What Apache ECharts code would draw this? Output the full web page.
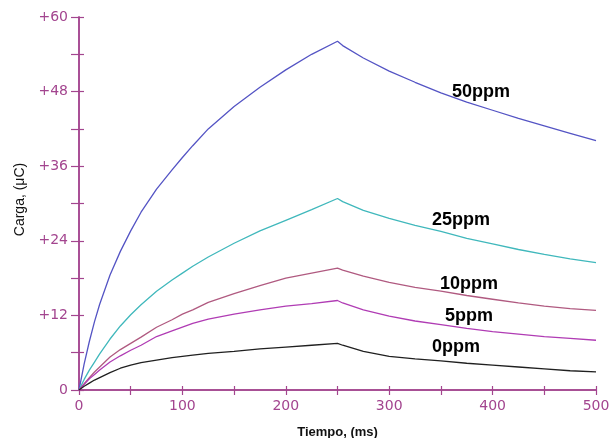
<!DOCTYPE html>
<html>
<head>
<meta charset="utf-8">
<script src="https://cdn.jsdelivr.net/npm/echarts@6/dist/echarts.min.js"></script>
<style>html,body{margin:0;padding:0;background:#fff;}#c{width:610px;height:438px;}</style>
</head>
<body>
<div id="c"></div>
<script>
// Data
const time  = [0, 5, 10, 15, 20, 30, 40, 50, 60, 75, 90, 100, 110, 125, 150, 175, 200, 225, 250, 255, 275, 300, 325, 350, 375, 400, 425, 450, 475, 500];
const ppm50 = [0, 4.2, 7.8, 11.0, 13.8, 18.5, 22.3, 25.6, 28.6, 32.3, 35.4, 37.4, 39.3, 42.0, 45.6, 48.7, 51.5, 54.0, 56.1, 55.4, 53.4, 51.3, 49.5, 47.8, 46.3, 45.0, 43.7, 42.5, 41.3, 40.1];
const ppm25 = [0, 1.7, 3.2, 4.5, 5.8, 8.2, 10.3, 12.1, 13.7, 15.9, 17.7, 18.8, 19.9, 21.4, 23.6, 25.6, 27.3, 29.0, 30.8, 30.3, 28.9, 27.6, 26.5, 25.5, 24.4, 23.5, 22.6, 21.8, 21.1, 20.5];
const ppm10 = [0, 1.0, 2.0, 2.9, 3.7, 5.3, 6.5, 7.5, 8.5, 10.1, 11.3, 12.2, 12.9, 14.1, 15.5, 16.8, 18.0, 18.8, 19.6, 19.3, 18.3, 17.3, 16.5, 15.9, 15.2, 14.6, 14.0, 13.5, 13.1, 12.8];
const ppm5  = [0, 0.9, 1.8, 2.5, 3.2, 4.5, 5.5, 6.4, 7.2, 8.6, 9.5, 10.1, 10.7, 11.4, 12.2, 12.9, 13.5, 13.9, 14.4, 14.0, 12.9, 11.9, 11.1, 10.5, 9.9, 9.4, 9.0, 8.6, 8.3, 8.0];
const ppm0  = [0, 0.6, 1.1, 1.6, 2.0, 2.8, 3.5, 4.0, 4.4, 4.8, 5.2, 5.4, 5.6, 5.9, 6.2, 6.6, 6.9, 7.2, 7.5, 7.2, 6.2, 5.4, 5.0, 4.7, 4.3, 4.0, 3.7, 3.4, 3.1, 2.9];
const seriesNames = ['50ppm', '25ppm', '10ppm', '5ppm', '0ppm'];
const seriesValues = [ppm50, ppm25, ppm10, ppm5, ppm0];
const seriesColors = ['#5454c4', '#40b8bc', '#b05a80', '#b03cb4', '#202020'];
const xTitle = 'Tiempo, (ms)';
const yTitle = 'Carga, (\u03bcC)';

const axisColor = '#a3458f';
const chart = echarts.init(document.getElementById('c'), null, {renderer: 'canvas'});

const pairs = v => time.map((t, i) => [t, v[i]]);

const xCommon = {
  type: 'value', min: 0, max: 500, interval: 50,
  axisLine: {show: true, lineStyle: {color: axisColor, width: 1.5}},
  splitLine: {show: false}
};
const yCommon = {
  type: 'value', min: 0, max: 60, interval: 6,
  axisLine: {show: true, lineStyle: {color: axisColor, width: 1.5}},
  splitLine: {show: false}
};

const labelPos = [[481, 92], [461, 220], [469, 284], [469, 316], [456, 347]];

chart.setOption({
  animation: false,
  backgroundColor: '#ffffff',
  grid: {left: 79, right: 14, top: 17, bottom: 48, containLabel: false, outerBoundsMode: 'none'},
  xAxis: [
    Object.assign({}, xCommon, {
      position: 'bottom',
      name: xTitle, nameLocation: 'middle', nameGap: 36,
      nameTextStyle: {color: '#111', fontFamily: 'Liberation Sans', fontSize: 13, fontWeight: 'bold'},
      axisTick: {show: true, inside: false, length: 5, lineStyle: {color: axisColor, width: 1.2}},
      axisLabel: {
        color: axisColor, fontFamily: 'DejaVu Sans', fontSize: 14, margin: 9,
        formatter: v => (v % 100 === 0 ? String(v) : '')
      }
    }),
    Object.assign({}, xCommon, {
      position: 'top',
      axisTick: {show: true, inside: false, length: 4, lineStyle: {color: axisColor, width: 1.2}},
      axisLabel: {show: false}
    })
  ],
  yAxis: [
    Object.assign({}, yCommon, {
      position: 'left',
      name: yTitle, nameLocation: 'middle', nameGap: 49, nameRotate: 90,
      nameTextStyle: {color: '#111', fontFamily: 'Liberation Sans', fontSize: 14, padding: [0, 0, 0, 8]},
      axisTick: {show: true, inside: false, length: 8, lineStyle: {color: axisColor, width: 1.2}},
      axisLabel: {
        color: axisColor, fontFamily: 'DejaVu Sans', fontSize: 14, margin: 11,
        formatter: v => (v % 12 !== 0 ? '' : (v === 0 ? '0' : '+' + v))
      }
    }),
    Object.assign({}, yCommon, {
      position: 'right',
      axisTick: {show: true, inside: false, length: 5, lineStyle: {color: axisColor, width: 1.2}},
      axisLabel: {show: false}
    })
  ],
  series: seriesNames.map((n, i) => ({
    name: n, type: 'line', xAxisIndex: 0, yAxisIndex: 0,
    data: pairs(seriesValues[i]),
    showSymbol: false, symbol: 'none', smooth: false,
    lineStyle: {color: seriesColors[i], width: 1.3},
    z: 3
  })),
  graphic: seriesNames.map((n, i) => ({
    type: 'text', x: labelPos[i][0], y: labelPos[i][1], z: 10,
    style: {
      text: n, fill: '#000', font: 'bold 18px "Liberation Sans", Arial, sans-serif',
      align: 'center', verticalAlign: 'middle'
    }
  }))
});
</script>
</body>
</html>
